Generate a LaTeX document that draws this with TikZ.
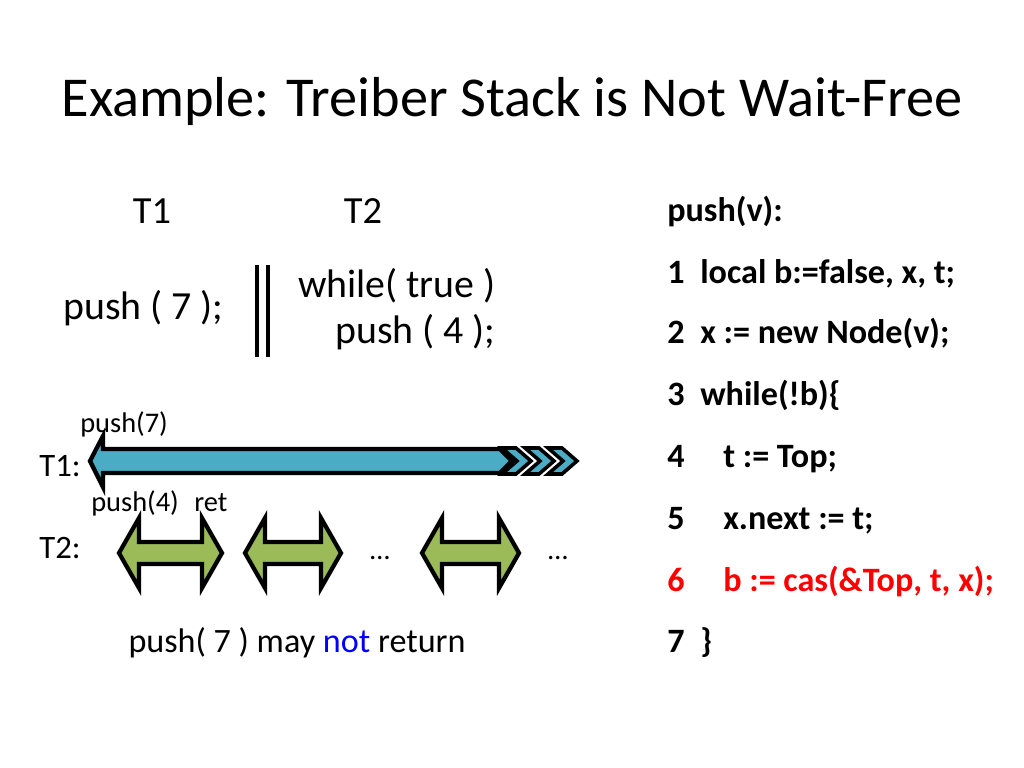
\documentclass[tikz,border=0pt]{standalone}
\usepackage{fontspec}
\setmainfont{Carlito}
\definecolor{arrowblue}{RGB}{75,172,198}
\definecolor{arrowgreen}{RGB}{155,187,89}
\definecolor{notblue}{RGB}{0,0,255}
\definecolor{casred}{RGB}{255,0,0}
% green double arrow: left tip, right tip
\newcommand{\dblarr}[2]{
  \draw[garrow] (#1,553) -- (#1+20,518) -- (#1+20,542) -- (#2-20,542)
    -- (#2-20,518) -- (#2,553) -- (#2-20,588) -- (#2-20,564)
    -- (#1+20,564) -- (#1+20,588) -- cycle;
}

\begin{document}
\begin{tikzpicture}[x=0.703125pt,y=-0.703125pt]

%
% Styles
%
\tikzstyle{barrow} = [draw=black,fill=arrowblue,line width=3pt]
\tikzstyle{garrow} = [draw=black,fill=arrowgreen,line width=3pt]
\tikzstyle{txt} = [inner sep=0pt,anchor=base west]
\tikzstyle{code} = [txt,font=\fontsize{24}{28}\selectfont\bfseries]

\useasboundingbox[fill=white] (0,0) rectangle (1024,768);

\node[inner sep=0pt,anchor=base,font=\fontsize{39.6}{48}\selectfont] (title) at (512,117) {Example: Treiber Stack is Not Wait-Free};

% threads
\node[inner sep=0pt,anchor=base,font=\fontsize{27}{32}\selectfont] (t1) at (152,224) {T1};
\node[inner sep=0pt,anchor=base,font=\fontsize{27}{32}\selectfont] (t2) at (363,224) {T2};
\node[txt,font=\fontsize{28}{34}\selectfont] (p7) at (63,319) {push ( 7 );};
\node[inner sep=0pt,anchor=base east,font=\fontsize{28}{34}\selectfont] (wt) at (496,297) {while( true )};
\node[inner sep=0pt,anchor=base east,font=\fontsize{28}{34}\selectfont] (p4) at (496,343) {push ( 4 );};
\draw[line width=3pt] (257,265) -- (257,357);
\draw[line width=3pt] (268,265) -- (268,357);

% timeline
\node[inner sep=0pt,anchor=base,font=\fontsize{23}{27}\selectfont] (l1) at (60,476) {T1:};
\node[inner sep=0pt,anchor=base,font=\fontsize{23}{27}\selectfont] (l2) at (60,558) {T2:};
\draw[barrow] (90,461) -- (103,436) -- (103,449) -- (500,449) -- (512,461)
  -- (500,473) -- (103,473) -- (103,487) -- cycle;
\foreach \x in {502,525,548}
  \draw[barrow,line width=2.5pt] (\x,448) -- ++(14,0) -- ++(15,13) -- ++(-15,13)
    -- ++(-14,0) -- ++(15,-13) -- cycle;
\node[txt,font=\fontsize{20}{24}\selectfont] (lp7) at (80,432) {push(7)};
\dblarr{119}{222}
\dblarr{245}{341}
\dblarr{422}{519}
\node[txt,font=\fontsize{20}{24}\selectfont] (lp4) at (91,511) {push(4)};
\node[txt,font=\fontsize{20}{24}\selectfont] (lret) at (194,511) {ret};
\node[inner sep=0pt,anchor=base,font=\fontsize{20}{24}\selectfont] (d1) at (380,559) {\dots};
\node[inner sep=0pt,anchor=base,font=\fontsize{20}{24}\selectfont] (d2) at (558,559) {\dots};
\node[inner sep=0pt,anchor=base,font=\fontsize{24}{28}\selectfont] (msg) at (297,652) {push( 7 ) may \textcolor{notblue}{not} return};

% code
\node[code] (c0) at (667,222) {push(v):};
\node[code] (n1) at (667,283) {1};
\node[code] (c1) at (700,283) {local b:=false, x, t;};
\node[code] (n2) at (667,344) {2};
\node[code] (c2) at (700,344) {x := new Node(v);};
\node[code] (n3) at (667,405) {3};
\node[code] (c3) at (700,405) {while(!b)\{};
\node[code] (n4) at (667,467) {4};
\node[code] (c4) at (723,467) {t := Top;};
\node[code] (n5) at (667,529) {5};
\node[code] (c5) at (723,529) {x.next := t;};
\node[code,text=casred] (n6) at (667,591) {6};
\node[code,text=casred] (c6) at (723,591) {b := cas(\&Top, t, x);};
\node[code] (n7) at (667,652) {7};
\node[code] (c7) at (700,652) {\}};

\end{tikzpicture}
\end{document}
